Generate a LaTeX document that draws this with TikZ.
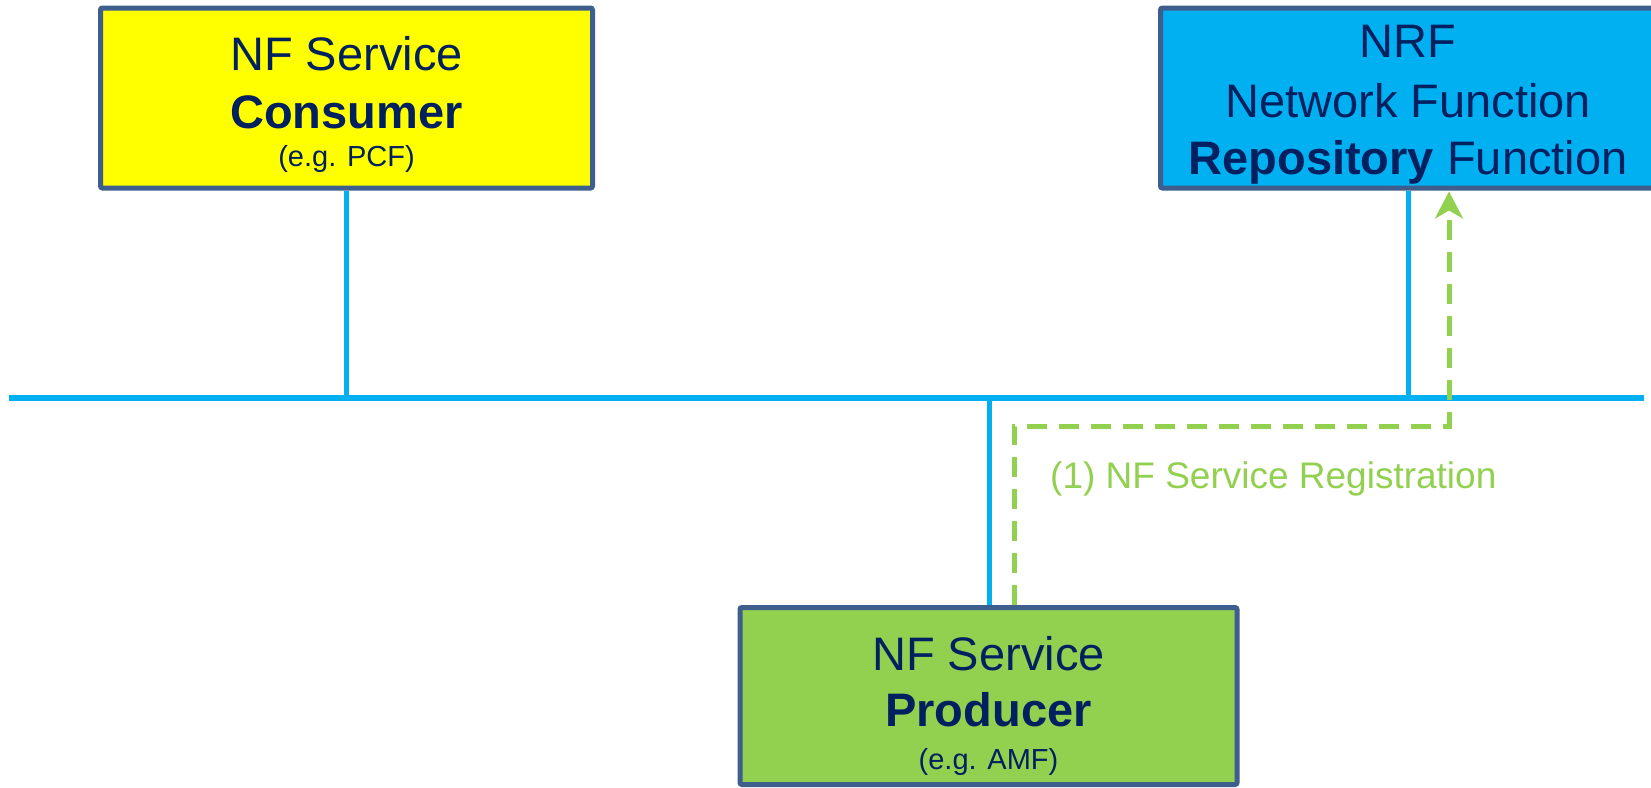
\documentclass[tikz,border=0pt]{standalone}
\usepackage{fontspec}
\setmainfont{Liberation Sans}
\usetikzlibrary{arrows.meta}
\definecolor{navy}{HTML}{002060}
\definecolor{frame}{HTML}{3E5E8E}
\definecolor{cyanline}{HTML}{00B0F0}
\definecolor{grn}{HTML}{92D050}
\definecolor{yel}{HTML}{FFFF00}
\tikzset{
  box/.style={draw=frame, line width=5pt, rounded corners=2pt, inner sep=0pt},
  big/.style={text=navy, font=\fontsize{47}{56}\selectfont, anchor=base, inner sep=0pt},
  bigb/.style={text=navy, font=\fontsize{47}{56}\selectfont\bfseries, anchor=base, inner sep=0pt},
  small/.style={text=navy, font=\fontsize{29}{34}\selectfont, anchor=base, inner sep=0pt},
  wire/.style={draw=cyanline, line width=5pt},
  bus/.style={draw=cyanline, line width=6pt},
  reg/.style={draw=grn, line width=5pt, dash pattern=on 20pt off 12pt,
    -{Stealth[length=27pt,width=28pt,inset=8pt,fill=grn]}},
  lbl/.style={text=grn, font=\fontsize{37}{44}\selectfont, anchor=base west, inner sep=0pt}
}
\begin{document}
\begin{tikzpicture}[x=1pt,y=-1pt]
\useasboundingbox (0,0) rectangle (1651,787);
% boxes
\node[box, fill=yel, minimum width=492pt, minimum height=180pt] (cons) at (346.5,98) {};
\node[box, fill=cyanline, minimum width=495pt, minimum height=180pt] (nrf) at (1408,98) {};
\node[box, fill=grn, minimum width=497pt, minimum height=177pt] (prod) at (988.5,696) {};
% texts
\node[big] (c1) at (346.5,70) {NF Service};
\node[bigb] (c2) at (346.5,128) {Consumer};
\node[small] (c3) at (346.5,166) {(e.g. PCF)};
\node[big] (n1) at (1408,57) {NRF};
\node[big] (n2) at (1408,117) {Network Function};
\node[big] (n3) at (1408,174) {\textbf{Repository} Function};
\node[big] (p1) at (988.5,670) {NF Service};
\node[bigb] (p2) at (988.5,726) {Producer};
\node[small] (p3) at (988.5,769) {(e.g. AMF)};
% bus
\coordinate (busL) at (9,398);
\coordinate (busR) at (1644,398);
\draw[bus] (busL) -- (busR);
\draw[wire] (cons.south) -- (cons.south |- busL);
\draw[wire] (nrf.south) -- (nrf.south |- busL);
\draw[wire] ([xshift=0.5pt]prod.north) -- ([xshift=0.5pt]prod.north |- busL);
% registration
\draw[reg] ([xshift=25.5pt]prod.north) -- ++(0,-179) -| ([xshift=41pt,yshift=-1pt]nrf.south);
\node[lbl] (reglbl) at (1050,488) {(1) NF Service Registration};
\end{tikzpicture}
\end{document}
